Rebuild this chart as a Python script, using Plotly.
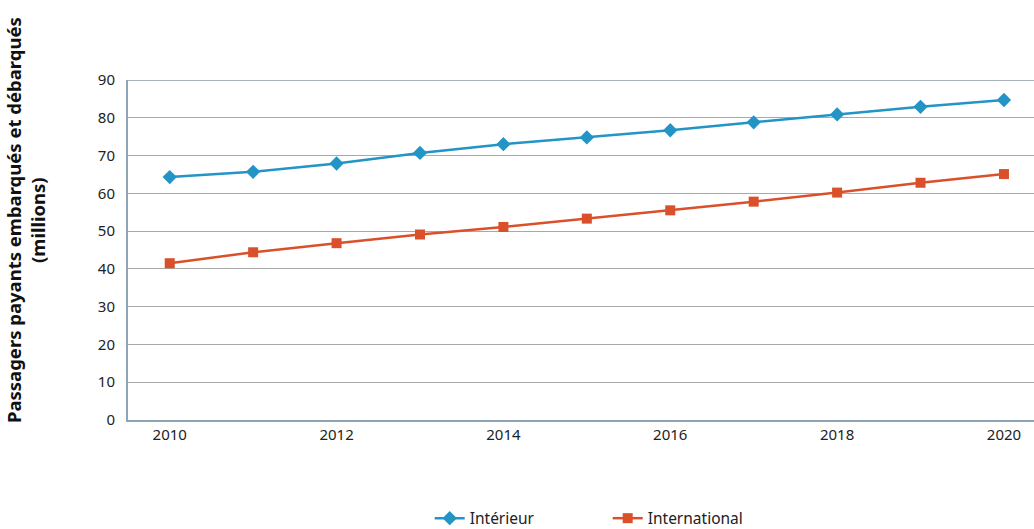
import plotly.graph_objects as go

years = list(range(2010, 2021))
interieur = [64.3, 65.7, 67.9, 70.7, 73.0, 74.8, 76.7, 78.8, 80.9, 82.9, 84.7]
international = [41.5, 44.4, 46.8, 49.1, 51.1, 53.3, 55.5, 57.8, 60.2, 62.8, 65.1]
y_title = "Passagers payants embarqués et débarqués<br>(millions)"

fig = go.Figure()
fig.add_trace(go.Scatter(x=years, y=interieur, name="Intérieur", mode="lines+markers",
                         line=dict(color="#2394c6", width=2.5),
                         marker=dict(symbol="diamond", size=11, color="#2394c6")))
fig.add_trace(go.Scatter(x=years, y=international, name="International", mode="lines+markers",
                         line=dict(color="#d9502a", width=2.5),
                         marker=dict(symbol="square", size=10, color="#d9502a")))

fig.update_layout(
    width=1034, height=529,
    margin=dict(l=128, r=0, t=80, b=109, autoexpand=False),
    paper_bgcolor="white", plot_bgcolor="white",
    font=dict(family="Noto Sans", size=15, color="#222"),
    showlegend=True,
    legend=dict(orientation="h", x=0.333, xanchor="left", y=-0.29, yanchor="middle",
                entrywidth=133, entrywidthmode="pixels", font=dict(size=15.5, color="#222")),
    xaxis=dict(range=[2009.5, 2020.36], tickvals=[2010, 2012, 2014, 2016, 2018, 2020],
               showgrid=False, showline=True, linecolor="#8ea3b4", linewidth=2,
               ticks="", tickfont=dict(size=15), zeroline=False, automargin=False),
    yaxis=dict(range=[0, 90], dtick=10, showgrid=True, gridcolor="#a9a9a9", gridwidth=1,
               showline=True, linecolor="#8ea3b4", linewidth=2, ticks="",
               ticklabelstandoff=8, zeroline=False, tickfont=dict(size=15), automargin=False),
    annotations=[dict(text="<b>" + y_title.replace("<br>", "</b><br><b>") + "</b>",
                      xref="paper", yref="paper", x=(25 - 128) / 906, y=0.588,
                      xanchor="center", yanchor="middle", textangle=-90, showarrow=False,
                      font=dict(size=18.5, color="#111"))],
)
fig.add_shape(type="line", xref="paper", yref="y", x0=0, x1=1, y0=90, y1=90,
              line=dict(color="#a9b3ba", width=2), layer="below")
fig.write_html("out.html", config={"displayModeBar": False},
               post_script="document.body.style.margin='0';document.body.style.overflow='hidden';")
